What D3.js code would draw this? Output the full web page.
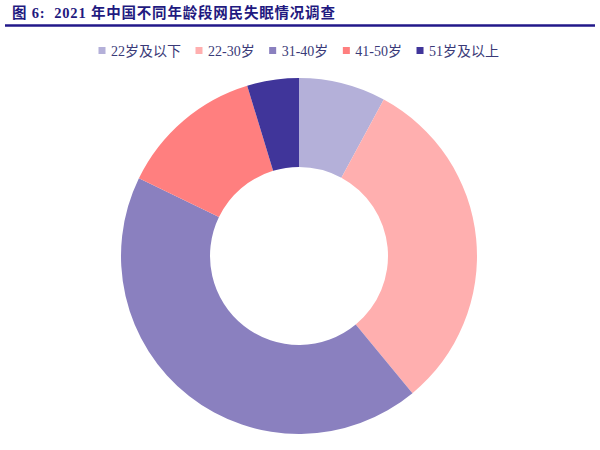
<!DOCTYPE html>
<html>
<head>
<meta charset="utf-8">
<script src="https://cdn.jsdelivr.net/npm/d3@7/dist/d3.min.js"></script>
<style>
  html, body { margin: 0; padding: 0; background: #fff; }
</style>
</head>
<body>
<div id="chart"></div>
<script>
// age groups, share of respondents (%)
const GROUPS = ['22岁及以下', '22-30岁', '31-40岁', '41-50岁', '51岁及以上'];
const SHARES = [7.9, 31.1, 43.2, 13.1, 4.7];
const COLORS = ['#b4b0d9', '#ffafaf', '#8a80bf', '#ff7f7f', '#40359a'];

const W = 600, H = 450;
const serif = '"Liberation Serif", "Noto Sans CJK SC", serif';

const svg = d3.select('#chart').append('svg')
  .attr('width', W).attr('height', H)
  .attr('viewBox', `0 0 ${W} ${H}`);

// title + rule
svg.append('text')
  .attr('x', 12).attr('y', 18)
  .attr('font-family', serif)
  .attr('font-weight', 700).attr('font-size', 14.5)
  .attr('letter-spacing', '0.8px')
  .style('white-space', 'pre')
  .attr('fill', '#1f1a80')
  .text('图 6:  2021 年中国不同年龄段网民失眠情况调查');
svg.append('line')
  .attr('x1', 5).attr('x2', 595)
  .attr('y1', 25.5).attr('y2', 25.5)
  .attr('stroke', '#22188a').attr('stroke-width', 2.5);

// legend: swatch + label, items laid out by label width
const lg = svg.append('g').attr('font-family', serif).attr('font-size', 14);
let lx = 102;
GROUPS.forEach((g, i) => {
  lg.append('rect')
    .attr('x', lx - 3.5).attr('y', 47).attr('width', 7).attr('height', 7)
    .attr('fill', COLORS[i]);
  const t = lg.append('text')
    .attr('x', lx + 9).attr('y', 55.5)
    .attr('fill', '#3a3a78')
    .text(g);
  lx += 9 + t.node().getComputedTextLength() + 18;
});

// ring
const cx = 299, cy = 256, rOut = 178, rIn = 89;
const pie = d3.pie().sort(null).value(d => d);
const arc = d3.arc().innerRadius(rIn).outerRadius(rOut);
svg.append('g')
  .attr('transform', `translate(${cx},${cy})`)
  .selectAll('path')
  .data(pie(SHARES))
  .join('path')
  .attr('d', arc)
  .attr('fill', (d, i) => COLORS[i]);
</script>
</body>
</html>
